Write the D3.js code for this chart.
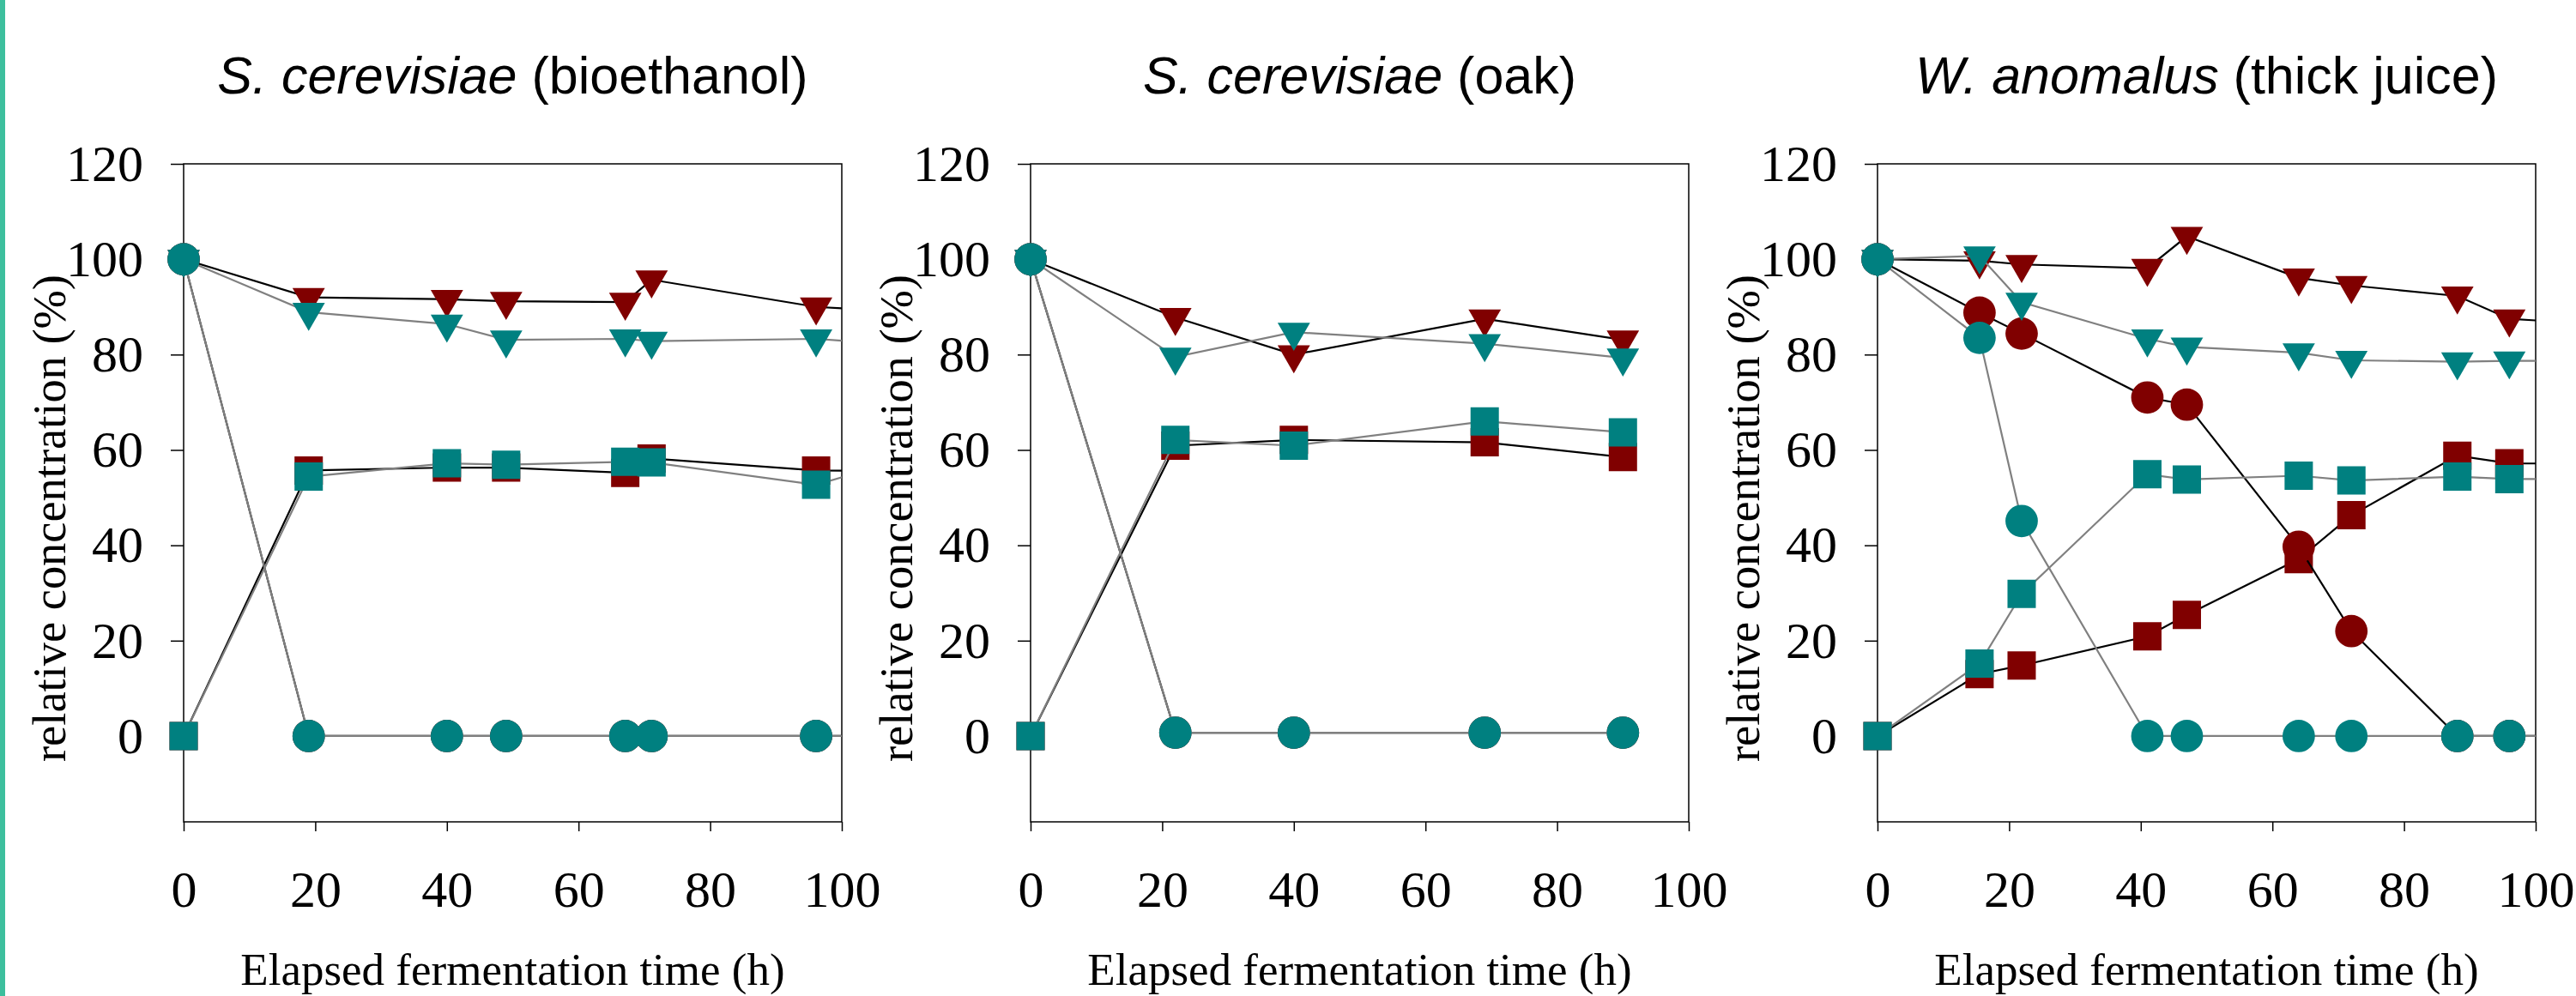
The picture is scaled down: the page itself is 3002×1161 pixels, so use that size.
<!DOCTYPE html>
<html>
<head>
  <meta charset="utf-8">
  <title>Relative concentration during fermentation</title>
  <style>
  body {
    margin: 0;
    background: #fff;
  }
  .tick text {
    font-family: "Liberation Serif", "Times New Roman", serif;
    font-size: 60px;
    fill: #000;
  }
  .tick line {
    stroke: #000;
    stroke-width: 1.5;
  }
</style>
</head>

<body>
  <div id="viz"></div>

  <script src="https://d3js.org/d3.v7.min.js"></script>
  <script>
    // values (% of initial concentration)
    const panelTitleItalic = ["S. cerevisiae", "S. cerevisiae", "W. anomalus"];
    const panelTitleRest = [" (bioethanol)", " (oak)", " (thick juice)"];
    const xTicks = [0, 20, 40, 60, 80, 100];
    const yTicks = [0, 20, 40, 60, 80, 100, 120];

    // bioethanol (last point lies past 100 h and is cut off by the frame)
    const timeBio = [0, 19, 40, 49, 67.1, 71.1, 96.1, 120];
    const bioRedTri = [100, 92.0, 91.6, 91.2, 91.0, 95.7, 90.0, 88.3];
    const bioRedSq = [0, 55.7, 56.3, 56.3, 55.2, 58.2, 55.7, 55.5];
    const bioRedCirc = [100, 0, 0, 0, 0, 0, 0, 0];
    const bioTealTri = [100, 88.9, 86.4, 83.1, 83.3, 82.8, 83.3, 81.0];
    const bioTealSq = [0, 54.4, 57.2, 56.9, 57.5, 57.4, 52.7, 62.2];
    const bioTealCirc = [100, 0, 0, 0, 0, 0, 0, 0];

    // oak
    const timeOak = [0, 22, 40, 69, 90];
    const oakRedTri = [100, 87.8, 80.0, 87.5, 83.1];
    const oakRedSq = [0, 60.9, 62.1, 61.6, 58.5];
    const oakRedCirc = [100, 0.7, 0.7, 0.7, 0.7];
    const oakTealTri = [100, 79.5, 84.7, 82.3, 79.3];
    const oakTealSq = [0, 62.1, 60.9, 66.0, 63.7];
    const oakTealCirc = [100, 0.7, 0.7, 0.7, 0.7];

    // thick juice
    const timeJuice = [0, 15.5, 21.9, 41, 47, 64, 72, 88.1, 96, 120];
    const juiceRedTri = [100, 99.7, 98.9, 98.1, 104.8, 96.1, 94.5, 92.3, 87.5, 85.5];
    const juiceRedSq = [0, 13.0, 14.8, 20.9, 25.4, 37.1, 46.3, 58.8, 57.2, 57.0];
    const juiceRedCirc = [100, 88.8, 84.4, 71.0, 69.5, 39.7, 22.0, 0, 0, 0];
    const juiceTealTri = [100, 100.7, 91.0, 83.3, 81.6, 80.4, 78.8, 78.5, 78.7, 78.7];
    const juiceTealSq = [0, 15.2, 29.8, 54.9, 53.8, 54.6, 53.6, 54.4, 53.9, 53.9];
    const juiceTealCirc = [100, 83.5, 45.1, 0, 0, 0, 0, 0, 0, 0];

    const panelTimes = [timeBio, timeOak, timeJuice];
    // drawing order: red series first, teal series on top
    const panelSeries = [
      [bioRedTri, bioRedSq, bioRedCirc, bioTealTri, bioTealSq, bioTealCirc],
      [oakRedTri, oakRedSq, oakRedCirc, oakTealTri, oakTealSq, oakTealCirc],
      [juiceRedTri, juiceRedSq, juiceRedCirc, juiceTealTri, juiceTealSq, juiceTealCirc]
    ];

    // styles
    const red = "#800000", teal = "#008080";
    const seriesStyle = [
      {shape: "tri", fill: red, line: "#000"},
      {shape: "sq", fill: red, line: "#000"},
      {shape: "circ", fill: red, line: "#000"},
      {shape: "tri", fill: teal, line: "#808080"},
      {shape: "sq", fill: teal, line: "#808080"},
      {shape: "circ", fill: teal, line: "#808080"}
    ];

    let svgWidth = 3002;
    let svgHeight = 1161;
    let plotW = 767, plotH = 767;
    let firstLeft = 214, panelStep = 987, plotTop = 191;

    let svg = d3.select("#viz")
      .append("svg")
      .attr("width", svgWidth)
      .attr("height", svgHeight);

    svg.append("rect")
      .attr("width", svgWidth)
      .attr("height", svgHeight)
      .attr("fill", "#fff");

    // teal strip on the left border
    svg.append("rect")
      .attr("x", 0).attr("y", 0)
      .attr("width", 6).attr("height", svgHeight)
      .attr("fill", "#3dbf9d");

    let x_scale = d3.scaleLinear().domain([0, 100]).range([0, plotW]);
    let y_scale = d3.scaleLinear().domain([-18, 120]).range([plotH, 0]);

    let symbols = {
      tri: d3.symbol().type(d3.symbolTriangle).size(619)(),
      sq: d3.symbol().type(d3.symbolSquare).size(33 * 33)(),
      circ: d3.symbol().type(d3.symbolCircle).size(Math.PI * 18.9 * 18.9)()
    };

    panelTimes.forEach((times, p) => {
      let g = svg.append("g")
        .attr("transform", `translate(${firstLeft + p * panelStep},${plotTop})`);

      // title
      let title = g.append("text")
        .attr("x", plotW / 2)
        .attr("y", 109 - plotTop)
        .attr("text-anchor", "middle")
        .style("font-family", "'Liberation Sans', Arial, sans-serif")
        .style("font-size", "61px");
      title.append("tspan").style("font-style", "italic").text(panelTitleItalic[p]);
      title.append("tspan").text(panelTitleRest[p]);

      // axes
      let y_axis = d3.axisLeft(y_scale).tickValues(yTicks).tickSize(15).tickSizeOuter(0).tickPadding(32);
      let x_axis = d3.axisBottom(x_scale).tickValues(xTicks).tickSize(11).tickSizeOuter(0).tickPadding(45);

      let gY = g.append("g").call(y_axis);
      gY.select(".domain").remove();
      let gX = g.append("g").attr("transform", `translate(0,${plotH})`).call(x_axis);
      gX.select(".domain").remove();

      // frame
      g.append("rect")
        .attr("width", plotW)
        .attr("height", plotH)
        .attr("fill", "none")
        .attr("stroke", "#000")
        .attr("stroke-width", 1.5);

      // axis titles
      g.append("text")
        .attr("x", plotW / 2)
        .attr("y", 1148 - plotTop)
        .attr("text-anchor", "middle")
        .style("font-family", "'Liberation Serif', 'Times New Roman', serif")
        .style("font-size", "53px")
        .text("Elapsed fermentation time (h)");

      g.append("text")
        .attr("transform", `translate(-138,${604 - plotTop}) rotate(-90)`)
        .attr("text-anchor", "middle")
        .attr("textLength", 568)
        .attr("lengthAdjust", "spacingAndGlyphs")
        .style("font-family", "'Liberation Serif', 'Times New Roman', serif")
        .style("font-size", "54px")
        .text("relative concentration (%)");

      // clip for the lines
      g.append("clipPath")
        .attr("id", `clip${p}`)
        .append("rect")
        .attr("width", plotW)
        .attr("height", plotH);

      let line = d3.line()
        .x(d => x_scale(d[0]))
        .y(d => y_scale(d[1]));

      panelSeries[p].forEach((values, s) => {
        let st = seriesStyle[s];
        let pts = times.map((t, i) => [t, values[i]]);

        g.append("path")
          .attr("d", line(pts))
          .attr("fill", "none")
          .attr("stroke", st.line)
          .attr("stroke-width", 2.2)
          .attr("clip-path", `url(#clip${p})`);

        g.append("g")
          .selectAll("path")
          .data(pts.filter(d => d[0] <= 100))
          .join("path")
          .attr("d", symbols[st.shape])
          .attr("fill", st.fill)
          .attr("transform", d => `translate(${x_scale(d[0])},${y_scale(d[1])})` + (st.shape == "tri" ? " rotate(180)" : ""));
      });
    });
  </script>
</body>
</html>
